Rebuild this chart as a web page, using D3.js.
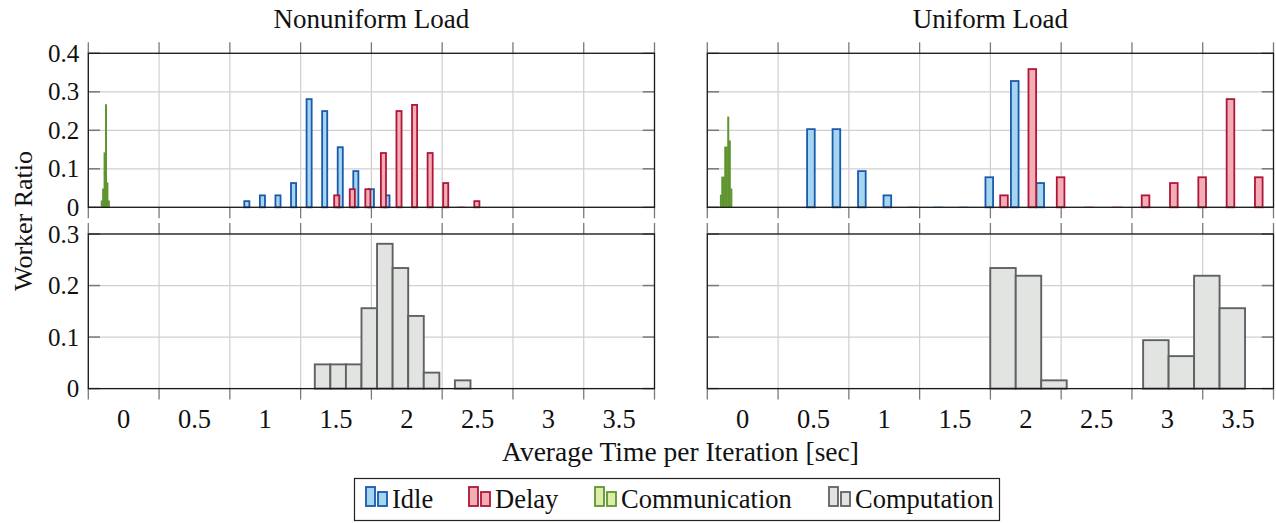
<!DOCTYPE html>
<html><head><meta charset="utf-8">
<script src="https://cdn.jsdelivr.net/npm/d3@7"></script>
<style>
body{margin:0;background:#fff}
svg{display:block}
text{font-family:"Liberation Serif","Times New Roman",serif;fill:#111}
</style>
</head><body>
<svg id="c" width="1276" height="523"></svg>
<script>
// ---------------- data ----------------
const xTickLabels = [0, 0.5, 1, 1.5, 2, 2.5, 3, 3.5];
const xGridTicks = [-0.25, 0.25, 0.75, 1.25, 1.75, 2.25, 2.75, 3.25, 3.75];
const topYTicks = [0, 0.1, 0.2, 0.3, 0.4];
const bottomYTicks = [0, 0.1, 0.2, 0.3];

// Nonuniform load
const nonuniformIdleX = [0.870, 0.980, 1.090, 1.200, 1.310, 1.420, 1.530, 1.640, 1.750, 1.860];
const nonuniformIdle  = [0.016, 0.031, 0.031, 0.063, 0.281, 0.250, 0.156, 0.094, 0.047, 0.031];
const nonuniformDelayX = [1.505, 1.615, 1.725, 1.835, 1.945, 2.055, 2.165, 2.275, 2.385, 2.495];
const nonuniformDelay  = [0.031, 0.047, 0.047, 0.141, 0.250, 0.266, 0.141, 0.063, 0.000, 0.016];
const nonuniformCommX = [-0.155, -0.145, -0.135, -0.125, -0.115, -0.105];
const nonuniformComm  = [0.016, 0.047, 0.141, 0.266, 0.063, 0.016];
const nonuniformCompEdges = [1.350, 1.460, 1.570, 1.680, 1.790, 1.900, 2.010, 2.120, 2.230, 2.340];
const nonuniformComp      = [0.047, 0.047, 0.047, 0.156, 0.281, 0.234, 0.141, 0.031, 0.000, 0.016];

// Uniform load
const uniformIdleX = [0.482, 0.662, 0.842, 1.022, 1.202, 1.382, 1.562, 1.742, 1.922, 2.102];
const uniformIdle  = [0.203, 0.203, 0.094, 0.031, 0.000, 0.000, 0.000, 0.078, 0.328, 0.063];
const uniformDelayX = [1.846, 2.046, 2.246, 2.446, 2.646, 2.846, 3.046, 3.246, 3.446, 3.646];
const uniformDelay  = [0.031, 0.359, 0.078, 0.000, 0.000, 0.031, 0.063, 0.078, 0.281, 0.078];
const uniformCommX = [-0.154, -0.144, -0.133, -0.123, -0.112, -0.102, -0.091, -0.080];
const uniformComm  = [0.031, 0.078, 0.078, 0.156, 0.156, 0.234, 0.172, 0.047];
const uniformCompEdges = [1.749, 1.929, 2.109, 2.289, 2.469, 2.649, 2.829, 3.009, 3.189, 3.369];
const uniformComp      = [0.234, 0.219, 0.016, 0.000, 0.000, 0.000, 0.094, 0.063, 0.219, 0.156];

const seriesNames = ["Idle", "Delay", "Communication", "Computation"];

// ---------------- styles ----------------
const COL = {
  Idle: {stroke: "#1a5aad", fill: "#a5d6f0"},
  Delay: {stroke: "#b0163b", fill: "#f3adb4"},
  Communication: {stroke: "#5f9530", fill: "#dbeda6"},
  Computation: {stroke: "#616165", fill: "#e2e4e2"}
};
const FRAME = "#1a1a1a", GRID = "#cfcfcf", TICK = "#7a7a7a";
const FS = 27, TFS = 25;

const svg = d3.select("#c");
svg.append("rect").attr("width", 1276).attr("height", 523).attr("fill", "#fff");

const panels = [
  {x0: 88.3, x1: 654.5, title: "Nonuniform Load", yLabels: true,
   idleX: nonuniformIdleX, idle: nonuniformIdle, delayX: nonuniformDelayX, delay: nonuniformDelay,
   commX: nonuniformCommX, comm: nonuniformComm, compE: nonuniformCompEdges, comp: nonuniformComp,
   barW: 0.036, compW: 0.11},
  {x0: 707.3, x1: 1273.5, title: "Uniform Load", yLabels: false,
   idleX: uniformIdleX, idle: uniformIdle, delayX: uniformDelayX, delay: uniformDelay,
   commX: uniformCommX, comm: uniformComm, compE: uniformCompEdges, comp: uniformComp,
   barW: 0.054, compW: 0.18}
];

const rows = [
  {y0: 207.3, y1: 53.3, dom: [0, 0.4], ticks: topYTicks},
  {y0: 388.6, y1: 234.0, dom: [0, 0.3], ticks: bottomYTicks}
];

function fmt(v) { return v === 0 ? "0" : String(+v.toFixed(2)); }

function drawGrid(g, xs, ys, yTicks) {
  const [xa, xb] = xs.range();
  const [ya, yb] = ys.range();
  g.append("g").selectAll("line").data(xGridTicks).join("line")
    .attr("x1", d => xs(d)).attr("x2", d => xs(d)).attr("y1", ya).attr("y2", yb)
    .attr("stroke", GRID).attr("stroke-width", 1.2);
  g.append("g").selectAll("line").data(yTicks).join("line")
    .attr("x1", xa).attr("x2", xb).attr("y1", d => ys(d)).attr("y2", d => ys(d))
    .attr("stroke", GRID).attr("stroke-width", 1.2);
}

function drawAxes(g, xs, ys, yTicks, yLabels, xLabels) {
  const [xa, xb] = xs.range();
  const [ya, yb] = ys.range();
  const TL = 11;
  g.append("g").selectAll("line").data(xGridTicks).join("line")
    .attr("x1", d => xs(d)).attr("x2", d => xs(d)).attr("y1", ya).attr("y2", ya + TL)
    .attr("stroke", TICK).attr("stroke-width", 1.3);
  g.append("g").selectAll("line").data(xGridTicks).join("line")
    .attr("x1", d => xs(d)).attr("x2", d => xs(d)).attr("y1", yb).attr("y2", yb - TL)
    .attr("stroke", TICK).attr("stroke-width", 1.3);
  g.append("g").selectAll("line").data(yTicks).join("line")
    .attr("x1", xa).attr("x2", xa + 11.7).attr("y1", d => ys(d)).attr("y2", d => ys(d))
    .attr("stroke", TICK).attr("stroke-width", 1.5);
  g.append("g").selectAll("line").data(yTicks).join("line")
    .attr("x1", xb).attr("x2", xb - 11.7).attr("y1", d => ys(d)).attr("y2", d => ys(d))
    .attr("stroke", TICK).attr("stroke-width", 1.5);
  g.append("rect").attr("x", xa).attr("y", yb).attr("width", xb - xa).attr("height", ya - yb)
    .attr("fill", "none").attr("stroke", FRAME).attr("stroke-width", 1.3);
  if (yLabels) {
    g.append("g").selectAll("text").data(yTicks).join("text")
      .attr("x", xa - 9).attr("y", d => ys(d)).attr("dy", "0.34em")
      .attr("text-anchor", "end").attr("font-size", TFS).text(fmt);
  }
  if (xLabels) {
    g.append("g").selectAll("text").data(xTickLabels).join("text")
      .attr("x", d => xs(d)).attr("y", 428)
      .attr("text-anchor", "middle").attr("font-size", 26.5).text(fmt);
  }
}

function centeredBars(g, xs, ys, xsData, vals, w, col, sw) {
  const data = xsData.map((c, i) => ({c, v: vals[i]}));
  g.append("g").selectAll("rect").data(data.filter(d => d.v > 0)).join("rect")
    .attr("x", d => xs(d.c - w / 2)).attr("width", d => xs(d.c + w / 2) - xs(d.c - w / 2))
    .attr("y", d => ys(d.v)).attr("height", d => ys(0) - ys(d.v))
    .attr("fill", col.fill).attr("stroke", col.stroke).attr("stroke-width", sw);
  g.append("g").selectAll("line").data(data.filter(d => d.v === 0)).join("line")
    .attr("x1", d => xs(d.c - w / 2) - 1).attr("x2", d => xs(d.c + w / 2) + 1)
    .attr("y1", ys(0) - 0.5).attr("y2", ys(0) - 0.5)
    .attr("stroke", col.fill).attr("stroke-width", 1.5);
}

panels.forEach(p => {
  const xs = d3.scaleLinear().domain([-0.25, 3.75]).range([p.x0, p.x1]);
  svg.append("text").attr("x", (p.x0 + p.x1) / 2).attr("y", 28)
    .attr("text-anchor", "middle").attr("font-size", FS).text(p.title);

  const rt = rows[0];
  const yt = d3.scaleLinear().domain(rt.dom).range([rt.y0, rt.y1]);
  const gt = svg.append("g");
  drawGrid(gt, xs, yt, rt.ticks);
  centeredBars(gt, xs, yt, p.idleX, p.idle, p.barW, COL.Idle, 1.8);
  centeredBars(gt, xs, yt, p.delayX, p.delay, p.barW, COL.Delay, 1.8);
  centeredBars(gt, xs, yt, p.commX, p.comm, 0.005, COL.Communication, 1.3);
  drawAxes(gt, xs, yt, rt.ticks, p.yLabels, false);

  const rb = rows[1];
  const yb = d3.scaleLinear().domain(rb.dom).range([rb.y0, rb.y1]);
  const gb = svg.append("g");
  drawGrid(gb, xs, yb, rb.ticks);
  const comp = p.compE.map((e, i) => ({e, v: p.comp[i]})).filter(d => d.v > 0);
  gb.append("g").selectAll("rect").data(comp).join("rect")
    .attr("x", d => xs(d.e)).attr("width", d => xs(d.e + p.compW) - xs(d.e))
    .attr("y", d => yb(d.v)).attr("height", d => yb(0) - yb(d.v))
    .attr("fill", COL.Computation.fill).attr("stroke", COL.Computation.stroke).attr("stroke-width", 1.9);
  drawAxes(gb, xs, yb, rb.ticks, p.yLabels, true);
});

svg.append("text").attr("x", 680.5).attr("y", 461).attr("text-anchor", "middle")
  .attr("font-size", 27.5).text("Average Time per Iteration [sec]");
svg.append("text").attr("transform", "translate(32,221) rotate(-90)")
  .attr("text-anchor", "middle").attr("font-size", 26).text("Worker Ratio");

const lg = svg.append("g");
lg.append("rect").attr("x", 354.5).attr("y", 478.5).attr("width", 645).attr("height", 42)
  .attr("fill", "#fff").attr("stroke", "#222").attr("stroke-width", 1.2);
const textX = [392, 495, 621, 855];
seriesNames.forEach((name, i) => {
  const col = COL[name];
  const tx = textX[i];
  const ix = tx - 26;
  lg.append("rect").attr("x", ix).attr("y", 487).attr("width", 9).attr("height", 19)
    .attr("fill", col.fill).attr("stroke", col.stroke).attr("stroke-width", 1.8);
  lg.append("rect").attr("x", ix + 12).attr("y", 492).attr("width", 9).attr("height", 14)
    .attr("fill", col.fill).attr("stroke", col.stroke).attr("stroke-width", 1.8);
  lg.append("text").attr("x", tx).attr("y", 508).attr("font-size", 26.5).text(name);
});
</script>
</body></html>
